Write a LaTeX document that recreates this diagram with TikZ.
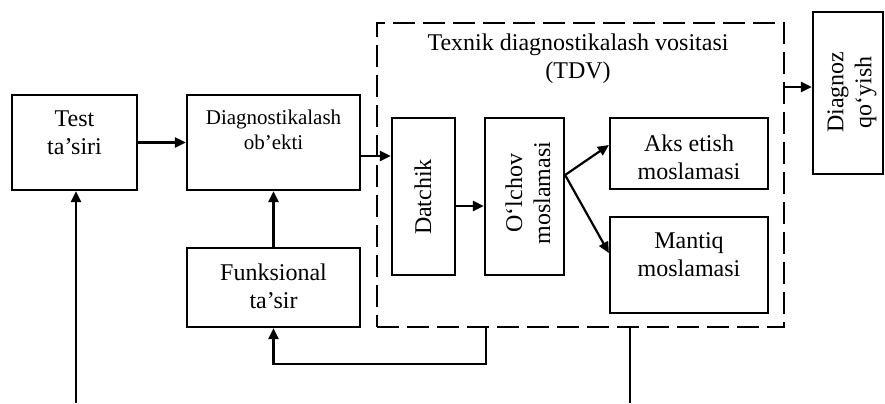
\documentclass[tikz,border=0pt]{standalone}
\usepackage{fontspec}
\setmainfont{Liberation Serif}
\usetikzlibrary{arrows.meta}
\begin{document}
\begin{tikzpicture}[x=1bp,y=-1bp,
  box/.style={draw, line width=2.2bp, inner sep=0pt},
  txt/.style={font=\fontsize{24bp}{28bp}\selectfont, align=center, inner sep=0pt},
  stxt/.style={font=\fontsize{21bp}{25bp}\selectfont, align=center, inner sep=0pt},
  arr/.style={line width=2.2bp, -{Triangle[length=11bp,width=10bp]}},
  ln/.style={line width=2.2bp},
  dashbox/.style={draw, line width=2.8bp, dash pattern=on 22bp off 8bp, inner sep=0pt}]
\useasboundingbox (0,0) rectangle (885,403);
% boxes
\node[box, minimum width=125bp, minimum height=95bp] (test) at (74.5,142.5) {};
\node[box, minimum width=173bp, minimum height=95bp] (diag) at (273.5,142.5) {};
\node[box, minimum width=173bp, minimum height=79bp] (funk) at (273.5,287.5) {};
\node[dashbox, minimum width=407bp, minimum height=304bp] (tdv) at (580.5,175) {};
\node[box, minimum width=63bp, minimum height=157bp] (datchik) at (423.5,196.5) {};
\node[box, minimum width=79bp, minimum height=157bp] (olchov) at (524.5,196.5) {};
\node[box, minimum width=158bp, minimum height=71bp] (aks) at (689,153.5) {};
\node[box, minimum width=158bp, minimum height=96bp] (mantiq) at (689,265) {};
\node[box, minimum width=70bp, minimum height=162bp] (diagnoz) at (848,93) {};
% texts
\node[txt] (testT) at (74.5,133) {Test\\ta’siri};
\node[stxt] (diagT) at (273.5,130) {Diagnostikalash\\ob’ekti};
\node[txt] (funkT) at (273.5,286) {Funksional\\ta’sir};
\node[txt] (tdvT) at (578,59) {Texnik diagnostikalash vositasi\\(TDV)};
\node[txt, rotate=90] (datchikT) at (423,197) {Datchik};
\node[txt, rotate=90] (olchovT) at (528,193) {O‘lchov\\moslamasi};
\node[txt] (aksT) at (689,157) {Aks etish\\moslamasi};
\node[txt] (mantiqT) at (689,255) {Mantiq\\moslamasi};
\node[txt, rotate=90] (diagnozT) at (852,92) {Diagnoz\\qo‘yish};
% connectors
\coordinate (in1) at (76,403);
\coordinate (out1) at (630,403);
\draw[arr] (test.east) -- (diag.west);
\draw[arr] (in1) -- (in1 |- test.south);
\draw[arr] (funk.north) -- (diag.south);
\draw[arr] (diag.east |- 0,156) -- (datchik.west |- 0,156);
\draw[arr] (datchik.east |- 0,206) -- (olchov.west |- 0,206);
\draw[arr] (olchov.east |- 0,175) -- (aks.west |- 0,145);
\draw[arr] (olchov.east |- 0,175) -- (mantiq.west |- 0,253);
\draw[arr] (tdv.east |- 0,87) -- (diagnoz.west |- 0,87);
\draw[arr] (tdv.south -| 486,0) -- (486,364) -| (funk.south);
\draw[ln] (tdv.south -| out1) -- (out1);
\end{tikzpicture}
\end{document}
